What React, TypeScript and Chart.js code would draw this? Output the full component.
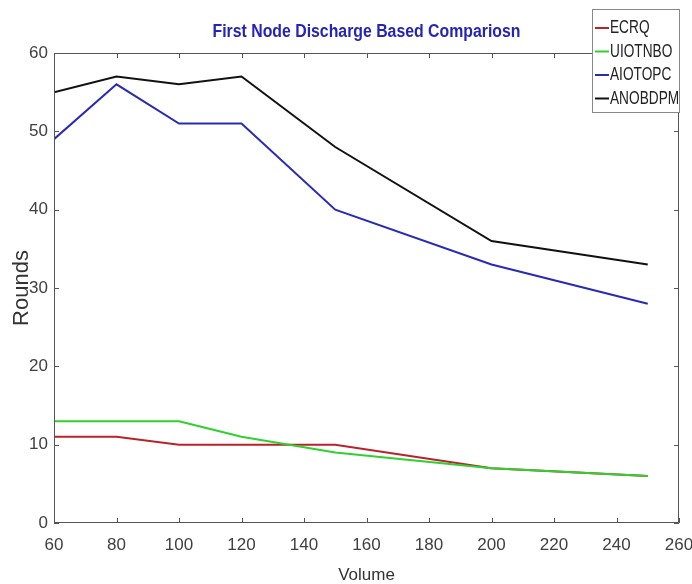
import React, { useEffect, useRef } from "react";
import { Chart, registerables } from "chart.js";

Chart.register(...registerables);

const volumes = [60, 80, 100, 120, 150, 200, 250];
const ecrq = [11, 11, 10, 10, 10, 7, 6];
const uiotnbo = [13, 13, 13, 11, 9, 7, 6];
const aiotopc = [49, 56, 51, 51, 40, 33, 28];
const anobdpm = [55, 57, 56, 57, 48, 36, 33];
const seriesNames = ["ECRQ", "UIOTNBO", "AIOTOPC", "ANOBDPM"];
const seriesColors = ["#b8232b", "#2fd12f", "#2a2ab4", "#111111"];
const titleText = "First Node Discharge Based Compariosn";
const xTitle = "Volume";
const yTitle = "Rounds";

const SANS = "'Liberation Sans', Arial, sans-serif";

function squishText(ctx: any, text: string, x: number, y: number, sx: number, align: string) {
  ctx.save();
  ctx.translate(x, y);
  ctx.scale(sx, 1);
  ctx.textAlign = align;
  ctx.fillText(text, 0, 0);
  ctx.restore();
}

const boxTicksPlugin = {
  id: "boxTicks",
  afterDatasetsDraw(chart: any) {
    const { ctx, chartArea: a, scales } = chart;
    ctx.save();
    ctx.strokeStyle = "#555555";
    ctx.lineWidth = 1;
    ctx.beginPath();
    ctx.rect(a.left + 0.5, a.top + 0.5, a.right - a.left - 1, a.bottom - a.top - 1);
    ctx.stroke();
    const L = 5;
    ctx.beginPath();
    scales.x.ticks.forEach((t: any) => {
      const px = Math.round(scales.x.getPixelForValue(t.value)) + 0.5;
      ctx.moveTo(px, a.bottom);
      ctx.lineTo(px, a.bottom - L);
      ctx.moveTo(px, a.top);
      ctx.lineTo(px, a.top + L);
    });
    scales.y.ticks.forEach((t: any) => {
      const py = Math.round(scales.y.getPixelForValue(t.value)) + 0.5;
      ctx.moveTo(a.left, py);
      ctx.lineTo(a.left + L, py);
      ctx.moveTo(a.right, py);
      ctx.lineTo(a.right - L, py);
    });
    ctx.stroke();
    ctx.restore();
  },
  afterDraw(chart: any) {
    const { ctx, chartArea: a } = chart;
    ctx.save();
    // title
    ctx.fillStyle = "#2424b8";
    ctx.font = "bold 18px " + SANS;
    ctx.textBaseline = "middle";
    const tw = ctx.measureText(titleText).width;
    squishText(ctx, titleText, (a.left + a.right) / 2, 32, 308 / tw, "center");
    // legend
    const lx = 592, ly = 9, lw = 87, lh = 103;
    ctx.fillStyle = "#ffffff";
    ctx.fillRect(lx, ly, lw, lh);
    ctx.strokeStyle = "#888888";
    ctx.lineWidth = 1;
    ctx.strokeRect(lx + 0.5, ly + 0.5, lw, lh);
    ctx.font = "19px " + SANS;
    chart.data.datasets.forEach((ds: any, i: number) => {
      const y = 28 + i * 23.5;
      ctx.strokeStyle = ds.borderColor;
      ctx.lineWidth = 2;
      ctx.beginPath();
      ctx.moveTo(lx + 3, y);
      ctx.lineTo(lx + 17, y);
      ctx.stroke();
      ctx.fillStyle = "#222222";
      squishText(ctx, ds.label, lx + 18, y, 0.72, "left");
    });
    ctx.restore();
  },
};

export default function App() {
  const ref = useRef<HTMLCanvasElement>(null);
  useEffect(() => {
    if (!ref.current) return;
    const all = [ecrq, uiotnbo, aiotopc, anobdpm];
    const chart = new Chart(ref.current, {
      type: "line",
      data: {
        datasets: all.map((vals, i) => ({
          label: seriesNames[i],
          data: volumes.map((v, j) => ({ x: v, y: vals[j] })),
          borderColor: seriesColors[i],
          backgroundColor: seriesColors[i],
          borderWidth: 2,
          pointRadius: 0,
          tension: 0,
          fill: false,
          order: all.length - 1 - i,
        })),
      },
      options: {
        responsive: false,
        animation: false,
        layout: { autoPadding: false, padding: { top: 53, right: 13, left: 0, bottom: 0 } },
        plugins: { legend: { display: false }, title: { display: false }, tooltip: { enabled: false } },
        scales: {
          x: {
            type: "linear",
            min: 60,
            max: 260,
            ticks: { stepSize: 20, color: "#404040", font: { family: SANS, size: 17 }, padding: 12 },
            grid: { display: false, drawTicks: false },
            border: { display: false },
            title: { display: true, text: xTitle, color: "#333333", font: { family: SANS, size: 17, lineHeight: 1 }, padding: 0 },
            afterFit: (s: any) => { s.height = 61; s.paddingLeft = 0; s.paddingRight = 0; },
          },
          y: {
            min: 0,
            max: 60,
            ticks: { stepSize: 10, color: "#404040", font: { family: SANS, size: 17 }, padding: 6 },
            grid: { display: false, drawTicks: false },
            border: { display: false },
            title: { display: true, text: yTitle, color: "#333333", font: { family: SANS, size: 22, lineHeight: 1 }, padding: { top: 11, bottom: 0 } },
            afterFit: (s: any) => { s.width = 54; s.paddingTop = 0; s.paddingBottom = 0; },
          },
        },
      },
      plugins: [boxTicksPlugin],
    });
    return () => chart.destroy();
  }, []);
  return (
    <div style={{ position: "fixed", left: 0, top: 0, width: 692, height: 584, background: "#fff" }}>
      <canvas ref={ref} width={692} height={584} />
    </div>
  );
}
